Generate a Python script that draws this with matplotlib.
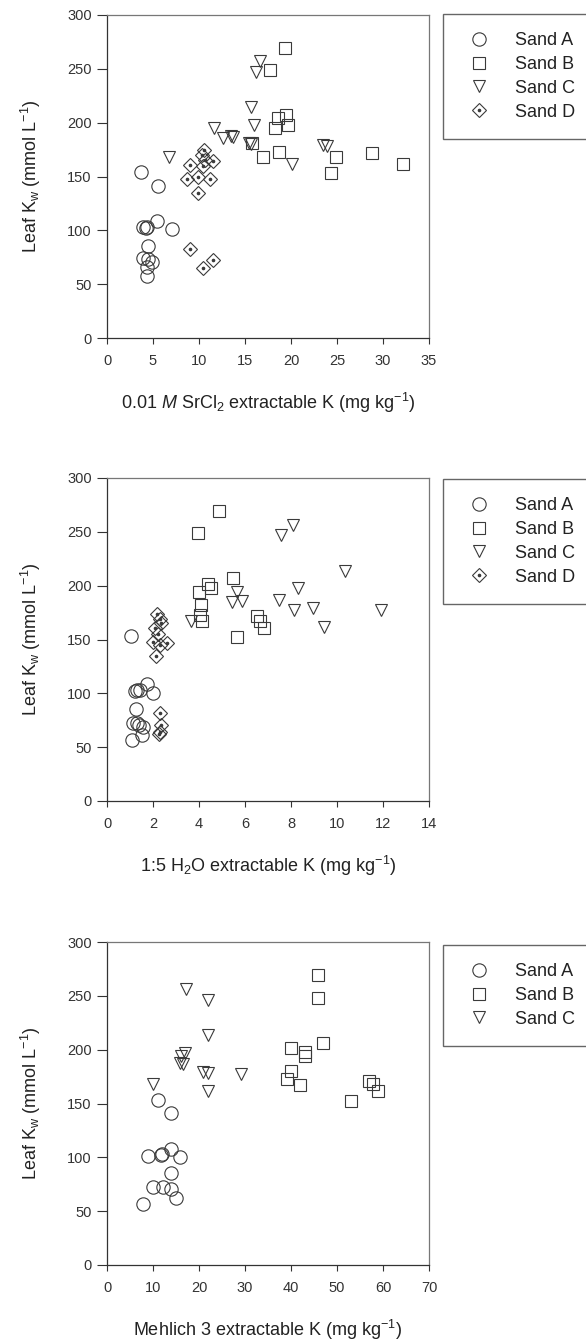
import matplotlib
matplotlib.use("Agg")
import matplotlib.pyplot as plt

plt.rcParams['font.family'] = ['Liberation Sans', 'DejaVu Sans']
plt.rcParams['mathtext.fontset'] = 'custom'
plt.rcParams['mathtext.rm'] = 'Liberation Sans'
plt.rcParams['mathtext.it'] = 'Liberation Sans:italic'

# --- data ---
# panel 1: 0.01 M SrCl2 extractable K
sr_a_x = [3.7, 5.5, 5.4, 3.9, 4.2, 4.4, 7.1, 4.5, 3.9, 4.5, 4.9, 4.4, 4.3]
sr_a_y = [154, 141, 109, 103, 102, 103, 101, 85, 74, 73, 71, 66, 58]
sr_b_x = [19.4, 17.7, 19.5, 18.6, 19.7, 18.3, 15.8, 18.7, 17.0, 24.9, 28.8, 32.2, 24.4]
sr_b_y = [269, 249, 207, 204, 198, 195, 181, 173, 168, 168, 172, 162, 153]
sr_c_x = [16.6, 16.2, 15.7, 16.0, 11.6, 12.6, 13.5, 13.7, 15.4, 15.6, 6.7, 23.5, 23.9, 20.1]
sr_c_y = [257, 247, 215, 198, 195, 186, 188, 187, 181, 180, 168, 179, 178, 162]
sr_d_x = [10.5, 10.3, 10.7, 9.0, 10.4, 11.5, 8.7, 9.9, 11.2, 9.9, 9.0, 10.4, 11.5]
sr_d_y = [175, 170, 165, 161, 160, 164, 148, 150, 148, 135, 83, 65, 72]

# panel 2: 1:5 H2O extractable K
h2o_a_x = [1.03, 1.29, 1.22, 1.43, 1.72, 2.01, 1.25, 1.14, 1.3, 1.41, 1.58, 1.54, 1.1]
h2o_a_y = [153, 103, 102, 103, 109, 100, 85, 72, 72, 71, 69, 61, 57]
h2o_b_x = [4.87, 3.94, 5.46, 4.41, 4.52, 4.01, 4.07, 4.04, 4.12, 5.64, 6.51, 6.65, 6.83]
h2o_b_y = [269, 249, 207, 202, 198, 194, 182, 173, 167, 152, 172, 167, 161]
h2o_c_x = [8.1, 7.57, 10.35, 8.32, 5.64, 5.42, 5.88, 7.48, 8.13, 8.97, 9.43, 11.9, 3.64]
h2o_c_y = [256, 247, 214, 198, 194, 185, 186, 187, 177, 179, 162, 177, 167]
h2o_d_x = [2.16, 2.3, 2.09, 2.35, 2.2, 1.99, 2.62, 2.3, 2.13, 2.3, 2.35, 2.3, 2.26]
h2o_d_y = [174, 169, 161, 165, 155, 148, 147, 145, 135, 82, 71, 64, 62]

# panel 3: Mehlich 3 extractable K
m3_a_x = [7.9, 15.0, 13.9, 12.1, 10.1, 13.9, 9.0, 12.0, 11.8, 15.9, 13.9, 13.9, 11.0]
m3_a_y = [57, 62, 71, 72, 72, 85, 101, 103, 102, 100, 108, 141, 153]
m3_b_x = [45.9, 45.9, 47.0, 40.0, 43.0, 43.0, 40.0, 39.1, 42.0, 57.0, 57.9, 59.0, 53.0]
m3_b_y = [269, 248, 206, 202, 198, 194, 180, 173, 167, 171, 168, 162, 152]
m3_c_x = [17.1, 22.0, 22.0, 17.0, 16.0, 15.9, 16.6, 20.9, 21.9, 29.1, 22.0, 10.1]
m3_c_y = [256, 246, 214, 197, 194, 188, 187, 179, 178, 177, 162, 168]

labels = ["Sand A", "Sand B", "Sand C", "Sand D"]
ylabel = r'Leaf K$_\mathregular{w}$ (mmol L$^\mathregular{-1}$)'
xlabels = [r'0.01 $\mathit{M}$ SrCl$_\mathregular{2}$ extractable K (mg kg$^\mathregular{-1}$)',
           r'1:5 H$_\mathregular{2}$O extractable K (mg kg$^\mathregular{-1}$)',
           r'Mehlich 3 extractable K (mg kg$^\mathregular{-1}$)']
xmax = [35, 14, 70]
xstep = [5, 2, 10]

W, H = 586, 1343
fig = plt.figure(figsize=(W / 100, H / 100), dpi=100)

ec = '#3a3a3a'
mk = dict(linestyle='none', mfc='none', mec=ec, mew=0.8)

panels = [
    [(sr_a_x, sr_a_y), (sr_b_x, sr_b_y), (sr_c_x, sr_c_y), (sr_d_x, sr_d_y)],
    [(h2o_a_x, h2o_a_y), (h2o_b_x, h2o_b_y), (h2o_c_x, h2o_c_y), (h2o_d_x, h2o_d_y)],
    [(m3_a_x, m3_a_y), (m3_b_x, m3_b_y), (m3_c_x, m3_c_y)],
]
tops = [15, 478, 942]
legend_tops = [14, 479, 945]

for i, series in enumerate(panels):
    ax = fig.add_axes([107 / W, 1 - (tops[i] + 323) / H, 322 / W, 323 / H])
    handles = []
    for j, (x, y) in enumerate(series):
        if j == 0:
            h, = ax.plot(x, y, marker='o', ms=9.6, **mk)
        elif j == 1:
            h, = ax.plot(x, y, marker='s', ms=8.5, **mk)
        elif j == 2:
            h, = ax.plot(x, y, marker='v', ms=9.2, **mk)
        else:
            h1, = ax.plot(x, y, marker='D', ms=7.5, **mk)
            h2, = ax.plot(x, y, marker='o', ms=1.6, linestyle='none', color=ec)
            h = (h1, h2)
        handles.append(h)

    ax.set_xlim(0, xmax[i])
    ax.set_ylim(0, 300)
    ax.set_xticks(range(0, xmax[i] + 1, xstep[i]))
    ax.set_yticks(range(0, 301, 50))
    ax.tick_params(axis='y', direction='out', length=7, width=0.8, pad=4,
                   labelsize=10.5, colors='#333333')
    ax.tick_params(axis='x', direction='out', length=4.3, width=0.8, pad=7,
                   labelsize=10.5, colors='#333333')
    for s in ['left', 'bottom']:
        ax.spines[s].set_color('#333333')
        ax.spines[s].set_linewidth(0.9)
    for s in ['top', 'right']:
        ax.spines[s].set_color('#777777')
        ax.spines[s].set_linewidth(0.9)

    ax.set_xlabel(xlabels[i], fontsize=13, color='#222222', labelpad=17)
    ax.set_ylabel(ylabel, fontsize=13, color='#222222', labelpad=17)

    leg = ax.legend(handles, labels[:len(series)], loc='upper left',
                    bbox_to_anchor=(443 / W, 1 - legend_tops[i] / H),
                    bbox_transform=fig.transFigure, borderaxespad=0,
                    fontsize=13, frameon=True, fancybox=False, framealpha=1,
                    edgecolor='#666666', borderpad=1.0, labelspacing=0.38,
                    handlelength=2.0, handletextpad=1.0)
    leg.get_frame().set_linewidth(1.0)
    for t in leg.get_texts():
        t.set_color('#222222')

fig.savefig("out.png", dpi=100)
